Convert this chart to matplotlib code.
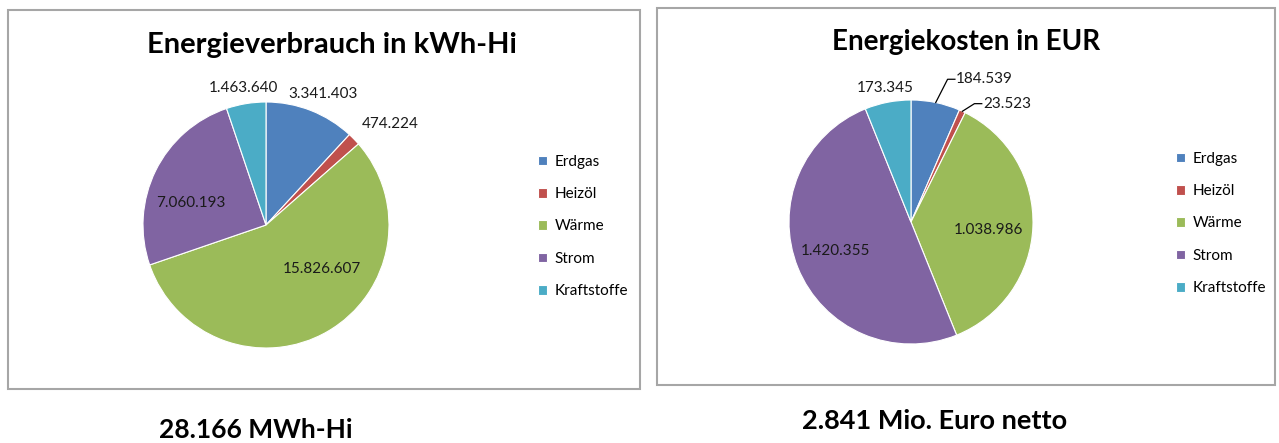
import numpy as np
import matplotlib
matplotlib.use("Agg")
import matplotlib.pyplot as plt
from matplotlib.patches import Rectangle

plt.rcParams['font.family'] = ['Lato', 'DejaVu Sans']

categories = ['Erdgas', 'Heizöl', 'Wärme', 'Strom', 'Kraftstoffe']
verbrauch_kwh = [3341403, 474224, 15826607, 7060193, 1463640]
kosten_eur = [184539, 23523, 1038986, 1420355, 173345]
colors = ['#4F81BD', '#C0504D', '#9BBB59', '#8064A2', '#4BACC6']

W, H = 1279, 443
fig = plt.figure(figsize=(W / 100, H / 100), dpi=100)


def fmt(v):
    return f"{v:,}".replace(",", ".")


def px_box(x0, y0, x1, y1):
    # pixel box (top-left origin) -> figure fraction rect
    return [x0 / W, 1 - y1 / H, (x1 - x0) / W, (y1 - y0) / H]


def draw_pie(cx, cy, r, values, label_pos, leaders):
    half = 1.25
    size = 2 * half * r
    ax = fig.add_axes(px_box(cx - size / 2, cy - size / 2, cx + size / 2, cy + size / 2))
    wedges, _ = ax.pie(values, colors=colors, startangle=90, counterclock=False,
                       wedgeprops=dict(linewidth=0.8, edgecolor='white'))
    ax.set_xlim(-half, half)
    ax.set_ylim(-half, half)
    ax.set_aspect('equal')
    ax.axis('off')
    for i, (w, v, (dist, dang)) in enumerate(zip(wedges, values, label_pos)):
        if i in leaders:
            continue
        mid = np.deg2rad((w.theta1 + w.theta2) / 2 + dang)
        tx, ty = dist * np.cos(mid), dist * np.sin(mid)
        ax.text(tx, ty, fmt(v), ha='center', va='center', fontsize=11, color='#1a1a1a')
    for idx, (ex, ey) in leaders.items():
        w = wedges[idx]
        mid = np.deg2rad((w.theta1 + w.theta2) / 2)
        sx, sy = np.cos(mid), np.sin(mid)
        ax.plot([sx, ex, ex + 0.06], [sy, ey, ey], color='black', lw=0.9, clip_on=False)
        ax.text(ex + 0.07, ey, fmt(values[idx]), ha='left', va='center', fontsize=11,
                color='#1a1a1a')
    return ax, wedges


def legend(wedges, x, y):
    fig.legend(wedges, categories, loc='upper left', bbox_to_anchor=(x / W, 1 - y / H),
               frameon=False, fontsize=11, handlelength=0.6, handleheight=0.6,
               handletextpad=0.5, labelspacing=1.2)


# frames
for x0, y0, x1, y1 in [(8, 10, 640, 389), (657, 8, 1275, 385)]:
    fig.patches.append(Rectangle((x0 / W, 1 - y1 / H), (x1 - x0) / W, (y1 - y0) / H,
                                 transform=fig.transFigure, fill=False,
                                 edgecolor='#a6a6a6', linewidth=1.5))

# left chart: consumption
ax1, w1 = draw_pie(266, 225, 123, verbrauch_kwh,
                   [(1.16, -2), (1.3, -5), (0.58, 22), (0.64, 10), (1.13, 0)], {})
fig.text(332 / W, 1 - 45 / H, 'Energieverbrauch in kWh-Hi', ha='center', va='center',
         fontsize=21, fontweight='bold')
legend(w1, 524, 141)
fig.text(256 / W, 1 - 430 / H, '28.166 MWh-Hi', ha='center', va='center',
         fontsize=19, fontweight='bold')

# right chart: costs
ax2, w2 = draw_pie(911, 222, 122, kosten_eur,
                   [(1.1, 0), (1.1, 0), (0.64, -4), (0.66, -1), (1.12, 0)],
                   {0: (0.30, 1.17), 1: (0.52, 0.97)})
fig.text(966 / W, 1 - 42 / H, 'Energiekosten in EUR', ha='center', va='center',
         fontsize=20, fontweight='bold')
legend(w2, 1162, 138)
fig.text(935 / W, 1 - 421 / H, '2.841 Mio. Euro netto', ha='center', va='center',
         fontsize=19.5, fontweight='bold')

fig.savefig('out.png', dpi=100)
